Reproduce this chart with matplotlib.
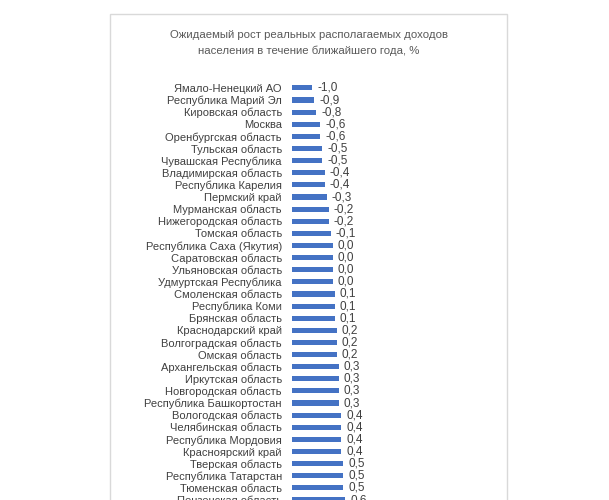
import numpy as np
import matplotlib.pyplot as plt
from matplotlib.patches import Rectangle

regions = ["Ямало-Ненецкий АО", "Республика Марий Эл", "Кировская область", "Москва",
           "Оренбургская область", "Тульская область", "Чувашская Республика",
           "Владимирская область", "Республика Карелия", "Пермский край",
           "Мурманская область", "Нижегородская область", "Томская область",
           "Республика Саха (Якутия)", "Саратовская область", "Ульяновская область",
           "Удмуртская Республика", "Смоленская область", "Республика Коми",
           "Брянская область", "Краснодарский край", "Волгоградская область",
           "Омская область", "Архангельская область", "Иркутская область",
           "Новгородская область", "Республика Башкортостан", "Вологодская область",
           "Челябинская область", "Республика Мордовия", "Красноярский край",
           "Тверская область", "Республика Татарстан", "Тюменская область",
           "Пензенская область"]
growth = [-1.0, -0.9, -0.8, -0.6, -0.6, -0.5, -0.5, -0.4, -0.4, -0.3, -0.2, -0.2, -0.1,
          0.0, 0.0, 0.0, 0.0, 0.1, 0.1, 0.1, 0.2, 0.2, 0.2, 0.3, 0.3, 0.3, 0.3,
          0.4, 0.4, 0.4, 0.4, 0.5, 0.5, 0.5, 0.6]
title = "Ожидаемый рост реальных располагаемых доходов\nнаселения в течение ближайшего года, %"

plt.rcParams['font.family'] = ['Liberation Sans', 'DejaVu Sans']

W, H = 609, 500
fig = plt.figure(figsize=(W / 100, H / 100), dpi=100)
fig.patch.set_facecolor('white')

# chart area frame (cut off at the bottom like the screenshot)
fig.patches.append(Rectangle((110 / W, -0.1), (507 - 110) / W, 1.1 - 14 / H,
                             transform=fig.transFigure, fill=False,
                             edgecolor='#d9d9d9', linewidth=1.0))

fig.text(309 / W, 1 - 43 / H, title, ha='center', va='center', fontsize=8.2,
         color='#595959', linespacing=1.65)

row_px = 12.2
first_row = 88
ax_top = 76
ax_left, ax_right = 291.7, 480
px_per_unit = 20.5
base = -2.0

ax = fig.add_axes([ax_left / W, 0, (ax_right - ax_left) / W, (H - ax_top) / H])
ytop = -(first_row - ax_top) / row_px
ax.set_ylim(ytop + (H - ax_top) / row_px, ytop)
ax.set_xlim(base, base + (ax_right - ax_left) / px_per_unit)

y = np.arange(len(regions))
vals = np.array(growth)
ax.barh(y, vals - base, left=base, height=0.42, color='#4472c4')
for yi, v in zip(y, vals):
    ax.text(v + 0.25, yi, f"{v:.1f}".replace('.', ','), va='center', ha='left',
            fontsize=8.5, color='#404040')

ax.set_yticks(y)
ax.set_yticklabels(regions, fontsize=8, color='#404040')
ax.tick_params(axis='y', length=0, pad=7)
ax.set_xticks([])
for s in ax.spines.values():
    s.set_visible(False)
ax.patch.set_alpha(0)

fig.savefig('out.png', dpi=100)
